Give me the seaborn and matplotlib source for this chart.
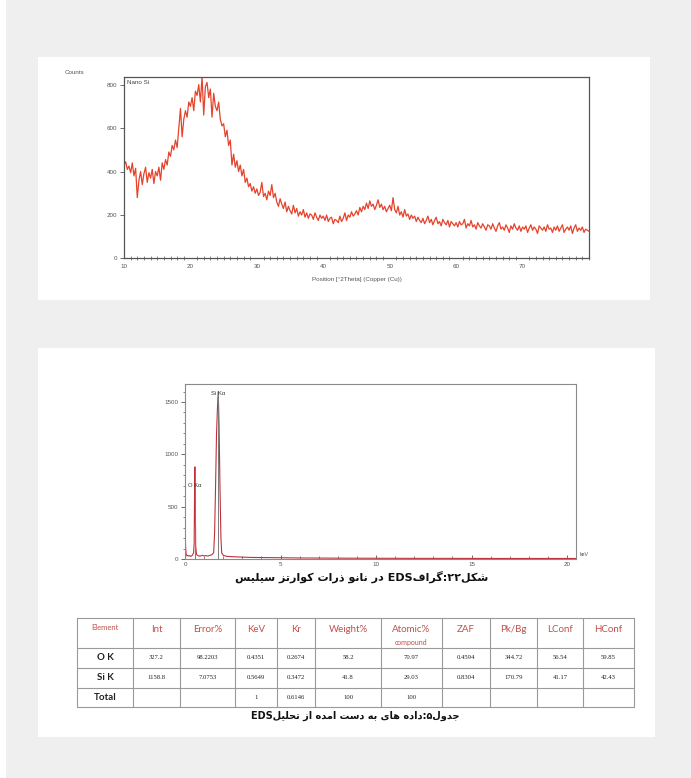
import re
import numpy as np
import pandas as pd
import matplotlib
matplotlib.use("Agg")
import matplotlib.pyplot as plt
import seaborn as sns
from matplotlib.patches import Rectangle
from matplotlib.ticker import MultipleLocator

# ------------------------------
# Data
# ------------------------------
# XRD pattern (Nano Si), counts read every 0.25 deg 2Theta from 10 to 80
xrd_start = 10.0
xrd_step = 0.25
xrd_counts = [
    430, 445, 410, 425, 395, 440, 380, 415, 280, 360, 400, 340, 390, 420, 350, 395, 370, 410, 345, 400,
    380, 420, 360, 440, 410, 455, 430, 490, 470, 520, 500, 545, 510, 600, 690, 560, 640, 680, 650, 720,
    700, 740, 680, 770, 750, 800, 720, 835, 660, 790, 810, 740, 780, 650, 760, 700, 680, 720, 640, 610,
    620, 560, 590, 520, 545, 430, 480, 420, 450, 400, 430, 380, 410, 350, 370, 330, 345, 310, 330, 300,
    320, 290, 305, 350, 285, 300, 270, 310, 290, 340, 280, 300, 260, 240, 275, 250, 230, 260, 215, 240,
    220, 205, 245, 210, 230, 195, 215, 200, 225, 190, 210, 185, 205, 200, 180, 210, 190, 175, 200, 185,
    195, 175, 200, 170, 185, 190, 160, 180, 175, 165, 195, 170, 185, 210, 175, 200, 190, 215, 195, 205,
    220, 200, 235, 215, 240, 225, 255, 230, 265, 240, 250, 225, 245, 270, 235, 250, 225, 240, 215, 230,
    245, 220, 280, 225, 210, 240, 200, 215, 190, 225, 195, 205, 180, 200, 185, 195, 170, 190, 175, 165,
    185, 160, 175, 195, 165, 180, 155, 175, 190, 160, 170, 150, 180, 165, 155, 175, 145, 170, 160, 150,
    165, 145, 170, 155, 160, 180, 140, 160, 150, 175, 145, 155, 135, 165, 150, 140, 160, 145, 130, 155,
    150, 135, 160, 140, 125, 150, 165, 135, 145, 130, 155, 140, 120, 150, 135, 160, 140, 130, 150, 125,
    145, 135, 150, 120, 140, 155, 130, 145, 135, 115, 150, 140, 130, 145, 125, 155, 135, 140, 120, 145,
    130, 150, 125, 140, 155, 120, 135, 145, 130, 150, 115, 140, 155, 125, 140, 130, 145, 120, 135, 130, 125,
]
xrd_theta = xrd_start + xrd_step * np.arange(len(xrd_counts))

# EDS spectrum
eds_kev = [0.00, 0.03, 0.06, 0.10, 0.15, 0.20, 0.25, 0.30, 0.35, 0.40, 0.45, 0.48, 0.50, 0.52,
           0.54, 0.56, 0.60, 0.65, 0.70, 0.80, 0.90, 1.00, 1.10, 1.20, 1.30, 1.40, 1.50, 1.55,
           1.60, 1.65, 1.70, 1.74, 1.78, 1.83, 1.88, 1.92, 2.00, 2.20, 2.50, 3.00, 3.50, 4.00,
           5.00, 6.00, 7.00, 8.00, 10.0, 12.0, 14.0, 16.0, 18.0, 20.0, 20.45]
eds_counts = [375, 120, 45, 30, 35, 28, 32, 25, 30, 40, 60, 150, 600, 880,
              500, 120, 45, 35, 30, 28, 35, 30, 32, 28, 35, 40, 60, 250,
              700, 1200, 1450, 1600, 1300, 700, 200, 60, 35, 25, 22, 18, 15, 14,
              12, 10, 9, 8, 7, 6, 6, 5, 5, 5, 5]
eds_lines = ["O K\u03b1", "Si K\u03b1"]
eds_line_kev = [0.52, 1.74]
eds_line_height = [880, 1600]

# EDS quantification table
table_header = ["Element", "Int", "Error%", "KeV", "Kr", "Weight%", "Atomic%", "ZAF", "Pk/Bg", "LConf", "HConf"]
row_o = ["O K", "327.2", "98.2203", "0.4351", "0.2674", "58.2", "70.97", "0.4594", "344.72", "56.54", "59.85"]
row_si = ["Si K", "1158.8", "7.0753", "0.5649", "0.3472", "41.8", "29.03", "0.8304", "170.79", "41.17", "42.43"]
row_total = ["Total", "", "", "1", "0.6146", "100", "100", "", "", "", ""]

fig_caption = "شکل۲۲:گرافEDS در نانو ذرات کوارتز سیلیس"
table_caption = "جدول۵:داده های به دست امده از تحلیلEDS"

# ------------------------------
# Persian text -> visual order with presentation forms
# ------------------------------
FORMS = {  # isolated, final, initial, medial
    "ا": ("\uFE8D", "\uFE8E", None, None),
    "ب": ("\uFE8F", "\uFE90", "\uFE91", "\uFE92"),
    "ت": ("\uFE95", "\uFE96", "\uFE97", "\uFE98"),
    "ج": ("\uFE9D", "\uFE9E", "\uFE9F", "\uFEA0"),
    "ح": ("\uFEA1", "\uFEA2", "\uFEA3", "\uFEA4"),
    "د": ("\uFEA9", "\uFEAA", None, None),
    "ذ": ("\uFEAB", "\uFEAC", None, None),
    "ر": ("\uFEAD", "\uFEAE", None, None),
    "ز": ("\uFEAF", "\uFEB0", None, None),
    "س": ("\uFEB1", "\uFEB2", "\uFEB3", "\uFEB4"),
    "ش": ("\uFEB5", "\uFEB6", "\uFEB7", "\uFEB8"),
    "ف": ("\uFED1", "\uFED2", "\uFED3", "\uFED4"),
    "ک": ("\uFB8E", "\uFB8F", "\uFB90", "\uFB91"),
    "گ": ("\uFB92", "\uFB93", "\uFB94", "\uFB95"),
    "ل": ("\uFEDD", "\uFEDE", "\uFEDF", "\uFEE0"),
    "م": ("\uFEE1", "\uFEE2", "\uFEE3", "\uFEE4"),
    "ن": ("\uFEE5", "\uFEE6", "\uFEE7", "\uFEE8"),
    "ه": ("\uFEE9", "\uFEEA", "\uFEEB", "\uFEEC"),
    "و": ("\uFEED", "\uFEEE", None, None),
    "ی": ("\uFBFC", "\uFBFD", "\uFBFE", "\uFBFF"),
}


def shape_run(word):
    out = []
    for i, ch in enumerate(word):
        f = FORMS[ch]
        prev_joins = i > 0 and FORMS[word[i - 1]][2] is not None
        next_joins = i < len(word) - 1 and f[2] is not None
        if prev_joins and next_joins:
            out.append(f[3])
        elif prev_joins:
            out.append(f[1])
        elif next_joins:
            out.append(f[2])
        else:
            out.append(f[0])
    return "".join(reversed(out))


def rtl(text):
    letters = "".join(FORMS)
    tokens = re.findall("[" + letters + "]+|[A-Za-z0-9\u06F0-\u06F9.]+|.", text)
    return "".join(shape_run(t) if t[0] in FORMS else t for t in reversed(tokens))


# ------------------------------
# Figure layout (pixel helpers)
# ------------------------------
W, H = 691, 778
sns.set_style("white")
plt.rcParams["font.family"] = ["Liberation Sans", "DejaVu Sans"]


def fx(px):
    return px / W


def fy(py):
    return 1 - py / H


fig = plt.figure(figsize=(W / 100, H / 100), dpi=100, facecolor="#efefef")

bg = fig.add_axes([0, 0, 1, 1], zorder=0)
bg.set_xlim(0, W)
bg.set_ylim(H, 0)
bg.axis("off")
bg.add_patch(Rectangle((0, 0), 6, H, color="white", lw=0))
bg.add_patch(Rectangle((38, 57), 612, 243, color="white", lw=0))
bg.add_patch(Rectangle((38, 348), 617, 389, color="white", lw=0))

tick_color = "#555555"

# ------------------------------
# XRD pattern
# ------------------------------
ax1 = fig.add_axes([fx(124), fy(258.5), (589 - 124) / W, (258.5 - 77) / H], zorder=2)
df_xrd = pd.DataFrame({"theta": xrd_theta, "counts": xrd_counts})
sns.lineplot(data=df_xrd, x="theta", y="counts", ax=ax1, color="#e5432c", linewidth=0.9)
ax1.set_xlim(10, 80)
ax1.set_ylim(0, 835)
ax1.set_xticks([10, 20, 30, 40, 50, 60, 70])
ax1.set_yticks([0, 200, 400, 600, 800])
ax1.xaxis.set_minor_locator(MultipleLocator(1))
ax1.tick_params(axis="x", which="major", direction="inout", length=4, width=0.6,
                labelsize=4.5, colors=tick_color, pad=2)
ax1.tick_params(axis="x", which="minor", direction="inout", length=2.5, width=0.5,
                colors=tick_color, bottom=True)
ax1.tick_params(axis="y", direction="out", length=3, width=0.6, labelsize=4.5,
                colors=tick_color, pad=2, left=True)
ax1.set_xlabel("")
ax1.set_ylabel("")
for s in ax1.spines.values():
    s.set_color("#555555")
    s.set_linewidth(0.9)
ax1.text(0.006, 0.985, "Nano Si", transform=ax1.transAxes, fontsize=4.5,
         color="#444444", va="top", ha="left")
fig.text(fx(65), fy(72), "Counts", fontsize=4.5, color="#555555", va="center", ha="left")
fig.text(fx(357), fy(279), "Position [\u00b02Theta] (Copper (Cu))", fontsize=4.5,
         color="#555555", va="center", ha="center")

# ------------------------------
# EDS spectrum
# ------------------------------
ax2 = fig.add_axes([fx(185), fy(559), (575.7 - 185) / W, (559 - 384) / H], zorder=2)
sns.lineplot(x=eds_kev, y=eds_counts, ax=ax2, color="#c4303a", linewidth=0.8)
ax2.vlines(eds_line_kev, 0, eds_line_height, color="#7a7a7a", linewidth=0.7)
label_y = [700, 1585]
for name, xk, ly in zip(eds_lines, eds_line_kev, label_y):
    ax2.text(xk, ly, name, fontsize=4.2, color="#333333", ha="center", va="center")
ax2.set_xlim(0, 20.45)
ax2.set_ylim(0, 1672)
ax2.set_xticks([0, 5, 10, 15, 20])
ax2.set_yticks([0, 500, 1000, 1500])
ax2.xaxis.set_minor_locator(MultipleLocator(1))
ax2.yaxis.set_minor_locator(MultipleLocator(100))
ax2.tick_params(axis="x", which="major", direction="in", length=3, width=0.6,
                labelsize=4.5, colors=tick_color, pad=2, bottom=True)
ax2.tick_params(axis="x", which="minor", direction="in", length=2, width=0.5,
                colors=tick_color, bottom=True)
ax2.tick_params(axis="y", which="major", direction="out", length=3, width=0.6,
                labelsize=4.5, colors=tick_color, pad=2, left=True)
ax2.tick_params(axis="y", which="minor", direction="out", length=1.8, width=0.5,
                colors=tick_color, left=True)
for s in ax2.spines.values():
    s.set_color("#8a8a8a")
    s.set_linewidth(0.8)
fig.text(fx(580), fy(555), "keV", fontsize=3.8, color="#555555", va="center", ha="left")

fig.text(fx(362), fy(577), rtl(fig_caption), fontsize=8, fontweight="bold",
         family=["DejaVu Sans"], color="#111111", va="center", ha="center")

# ------------------------------
# Table
# ------------------------------
col_edges = [77, 133, 180, 235, 277, 315, 381, 442, 490, 537, 583, 634]
row_edges = [618, 648, 667.5, 687.5, 707]
line_kw = dict(color="#9a9a9a", linewidth=0.8)
for xe in col_edges:
    bg.plot([xe, xe], [row_edges[0], row_edges[-1]], **line_kw)
for ye in row_edges:
    bg.plot([col_edges[0], col_edges[-1]], [ye, ye], **line_kw)

header_red = "#c0504d"
for i, name in enumerate(table_header):
    cx = (col_edges[i] + col_edges[i + 1]) / 2
    if i == 0:
        bg.text(cx, 628, name, fontsize=5.5, color=header_red, ha="center", va="center",
                family=["Lato", "DejaVu Sans"])
    else:
        bg.text(cx, 630, name, fontsize=7, color=header_red, ha="center", va="center",
                family=["Lato", "DejaVu Sans"])
bg.text((col_edges[6] + col_edges[7]) / 2, 643, "compound", fontsize=5, color=header_red,
        ha="center", va="center", family=["Lato", "DejaVu Sans"])

for r, row in enumerate([row_o, row_si, row_total]):
    cy = (row_edges[r + 1] + row_edges[r + 2]) / 2
    for i, val in enumerate(row):
        cx = (col_edges[i] + col_edges[i + 1]) / 2
        if i == 0:
            bg.text(cx, cy, val, fontsize=7, fontweight="bold", color="#222222",
                    ha="center", va="center", family=["Lato", "DejaVu Sans"])
        else:
            bg.text(cx, cy, val, fontsize=4.8, color="#222222", ha="center", va="center",
                    family=["Liberation Serif", "DejaVu Serif"])

fig.text(fx(355), fy(716), rtl(table_caption), fontsize=7, fontweight="bold",
         family=["DejaVu Sans"], color="#111111", va="center", ha="center")

fig.savefig("out.png", dpi=100, facecolor=fig.get_facecolor())
